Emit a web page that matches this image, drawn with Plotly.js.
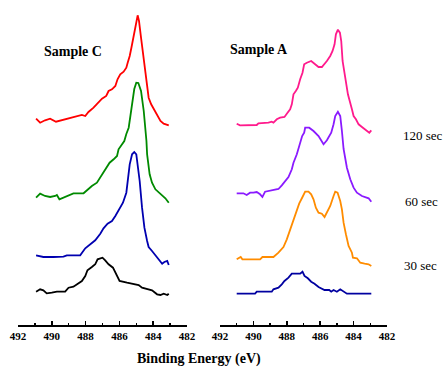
<!DOCTYPE html>
<html><head><meta charset="utf-8">
<script src="https://cdn.plot.ly/plotly-3.0.1.min.js"></script>
<style>html,body{margin:0;padding:0;background:#fff}#chart{width:445px;height:368px}</style>
</head><body><div id="chart"></div>
<script>
// ---- Sample C (left panel) ----
const cRedE = [490.93,490.69,490.40,490.10,489.75,489.41,489.11,488.81,488.52,488.22,488.02,487.83,487.53,487.23,487.03,486.78,486.64,486.44,486.24,486.11,485.95,485.75,485.59,485.51,485.39,485.29,485.16,485.04,484.92,484.84,484.72,484.56,484.40,484.27,484.12,483.97,483.77,483.57,483.38,483.08];
const cRedI = [6.3,2.3,4.7,6.3,3.3,4.7,5.7,7.3,8,10,9,13,17.3,22.3,26.3,29,34,35.7,39,45.7,50.7,53.3,57.3,62.3,69,77.3,87.3,99,109.7,104,87.3,67.3,47.3,27.3,20.7,15.7,10.7,4,1.3,-0.3];

const cGreenE = [490.93,490.69,490.40,490.10,489.80,489.70,489.55,489.31,489.01,488.72,488.12,487.92,487.63,487.33,487.13,486.94,486.78,486.58,486.34,486.14,486.05,485.85,485.71,485.59,485.45,485.35,485.23,485.12,485.00,484.88,484.72,484.56,484.40,484.36,484.21,484.07,483.87,483.57,483.28,483.08];
const cGreenI = [-0.7,3.3,1,0,1,2,-2.3,-0.7,2,3.7,3.7,6.7,11,14.3,19.3,24.3,29.3,34.3,37.7,41,47.7,52.7,56,63,69.3,81,96,108,114.3,114,106,86,56,42.7,22.7,14.3,7.7,2.7,-1.3,-5.7];

const cBlueE = [490.93,490.69,490.50,489.90,489.31,489.11,488.32,488.02,487.73,487.43,487.13,486.94,486.70,486.44,486.24,485.99,485.79,485.59,485.51,485.39,485.25,485.12,485.00,484.92,484.80,484.66,484.52,484.36,484.27,484.07,483.87,483.67,483.47,483.34,483.17,483.08];
const cBlueI = [9.7,9,8,8,8.3,9.7,9.7,16.7,20.7,24.7,31.3,36.7,41.3,44,49,55.7,62.3,72.3,84,100.7,110.7,113,110.7,100.7,84,57.3,37.3,24,18,14,10,5.7,1.3,3,4,0];

const cBlackE = [490.93,490.69,490.50,490.30,490.00,489.70,489.21,489.01,488.72,488.42,488.22,488.02,487.89,487.63,487.43,487.29,487.13,487.00,486.84,486.64,486.38,486.18,485.99,485.55,485.16,484.86,484.66,484.36,484.07,483.77,483.57,483.38,483.17,483.08];
const cBlackI = [3.3,5.7,4.7,1.7,2.3,3.3,3.3,7.3,8.3,11.3,14,19,24.7,28,30.7,35.7,36.7,37.3,34.7,30.7,27.3,20.7,14,12.3,10.7,10,7.3,5.7,4.7,0.7,0,1.3,0,1.3];

// ---- Sample A (right panel) ----
const aPinkE = [491.00,490.80,489.80,489.70,489.10,488.90,488.80,488.60,488.40,488.14,488.00,487.80,487.70,487.60,487.46,487.34,487.20,487.06,486.96,486.80,486.54,486.34,486.10,485.90,485.74,485.60,485.40,485.26,485.14,485.06,484.94,484.82,484.74,484.66,484.50,484.34,484.10,484.00,483.86,483.70,483.50,483.30,483.06,482.94];
const aPinkI = [11.3,9.7,10,11.7,12.3,13.3,12.3,15.7,17.3,18,21.3,25.7,30.7,40.7,44,47.3,55.7,62.3,70.7,72.3,74,71.3,68,68,70.7,74,79,84,90.7,100.7,105.3,102.3,94,74,57.3,40.7,25.7,19,15.7,10.7,8,5.7,2.3,4.7];

const aPurpleE = [491.00,490.60,490.40,490.20,490.00,489.80,489.60,489.46,489.30,488.90,488.70,488.50,488.30,488.10,487.90,487.70,487.60,487.40,487.26,487.08,486.96,486.90,486.66,486.40,486.10,485.80,485.60,485.34,485.20,485.10,484.94,484.80,484.70,484.60,484.40,484.20,484.00,483.80,483.50,483.30,483.10,482.94];
const aPurpleI = [3.7,3.7,2,4.3,4.3,5,2.7,0,5.3,6.7,7.7,8,11.7,16,20,27.7,34.3,42.7,51,61,64.3,69.3,69.3,66,61,52.7,56.7,64.3,72.7,81,85.3,81,66,48,29.3,17.7,9.3,4.3,1,0,-1.3,-4.7];

const aOrangeE = [491.00,490.86,490.76,490.66,489.60,489.46,488.80,488.50,488.20,488.00,487.80,487.60,487.40,487.26,487.06,486.90,486.70,486.54,486.40,486.26,486.10,485.90,485.74,485.60,485.40,485.20,485.10,484.96,484.80,484.70,484.60,484.46,484.30,484.10,484.04,483.80,483.60,483.34,483.10,482.94];
const aOrangeI = [3.7,4.7,6,3.7,3.7,6,6,10.3,16,23.7,33.7,42.7,52,59.3,66,71.3,71.3,68.7,63.7,55.3,50.3,49.3,46,50.3,57,67,71.3,70.3,62,53.7,40.3,28.7,17,10.3,5.3,4.7,0.3,-0.7,-1.3,-3];

const aNavyE = [491.00,489.90,489.80,488.90,488.80,488.50,488.30,488.14,487.90,487.70,487.20,487.06,486.94,486.74,486.54,486.34,486.10,485.90,485.74,485.46,485.34,485.20,485.00,484.80,484.60,484.40,482.94];
const aNavyI = [1.3,1.3,3.3,3.3,5.7,7.3,10.7,14,17.3,21.3,21.3,23.3,19,16.7,13.3,11.3,8,6.7,5,5,3.3,5,3.3,5.7,3.3,1.3,1.3];

const panelTitles = ["Sample C", "Sample A"];
const timeLabels = ["120 sec", "60 sec", "30 sec"];
const tickVals = [492,490,488,486,484,482];
const axisTitle = "Binding Energy (eV)";

// vertical stacking offsets (a.u.)
const cOffsets = [200, 128, 60, 30];
const aOffsets = [190, 128, 62, 30];

function tr(E, I, off, color, xa) {
  return {x: E, y: I.map(v => v + off), type: 'scatter', mode: 'lines',
          xaxis: xa, yaxis: 'y', line: {color: color, width: 1.8}, hoverinfo: 'skip'};
}

const data = [
  tr(cRedE, cRedI, cOffsets[0], '#ff0000', 'x'),
  tr(cGreenE, cGreenI, cOffsets[1], '#008a00', 'x'),
  tr(cBlueE, cBlueI, cOffsets[2], '#0000b0', 'x'),
  tr(cBlackE, cBlackI, cOffsets[3], '#000000', 'x'),
  tr(aPinkE, aPinkI, aOffsets[0], '#ff1a8c', 'x2'),
  tr(aPurpleE, aPurpleI, aOffsets[1], '#8a1aff', 'x2'),
  tr(aOrangeE, aOrangeI, aOffsets[2], '#ff8c00', 'x2'),
  tr(aNavyE, aNavyI, aOffsets[3], '#0000a0', 'x2')
];

const serif = 'Liberation Serif';
function xax(domain) {
  return {domain: domain, range: [492, 482], anchor: 'y', showgrid: false, zeroline: false,
    showline: true, linecolor: '#000', linewidth: 1.5,
    ticks: 'inside', ticklen: 4, tickwidth: 1.5, tickcolor: '#000',
    tickvals: tickVals, ticktext: tickVals.map(v => '<b>' + v + '</b>'),
    tickfont: {family: serif, size: 11, color: '#000'},
    minor: {dtick: 1, ticks: 'inside', ticklen: 2.5, tickwidth: 1.3, tickcolor: '#000', showgrid: false},
    fixedrange: true};
}

const W = 445, H = 325;
const ann = [];
function pa(text, px, py, size, bold) {
  ann.push({text: bold ? '<b>' + text + '</b>' : text, xref: 'paper', yref: 'paper', x: px / W, y: 1 - py / H,
    xanchor: 'center', yanchor: 'middle', showarrow: false,
    font: {family: serif, size: size, color: '#000'}});
}
pa(panelTitles[0], 73, 51, 14, true);
pa(panelTitles[1], 259, 49, 14, true);
pa(timeLabels[0], 423, 135, 13, false);
pa(timeLabels[1], 421, 201, 13, false);
pa(timeLabels[2], 420, 265, 13, false);
pa(axisTitle, 199, 359, 14, true);

const layout = {
  width: 445, height: 368,
  margin: {l: 0, r: 0, t: 0, b: 43, pad: 0},
  paper_bgcolor: '#fff', plot_bgcolor: '#fff',
  showlegend: false,
  xaxis: xax([18 / W, 187 / W]),
  xaxis2: xax([220 / W, 387 / W]),
  yaxis: {range: [0, 325], visible: false, fixedrange: true},
  annotations: ann
};

Plotly.newPlot('chart', data, layout, {displayModeBar: false, staticPlot: true});
</script></body></html>
